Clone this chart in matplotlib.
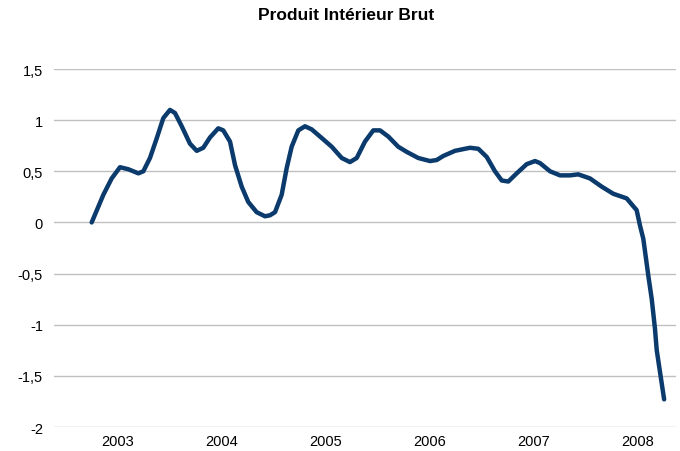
import matplotlib
matplotlib.use("Agg")
import matplotlib.pyplot as plt

plt.rcParams['font.family'] = ['Liberation Sans', 'DejaVu Sans']

title = "Produit Intérieur Brut"

dates = [2002.754, 2002.866, 2002.946, 2003.026, 2003.106, 2003.202, 2003.250, 2003.314,
         2003.378, 2003.442, 2003.506, 2003.554, 2003.619, 2003.698, 2003.763, 2003.826,
         2003.890, 2003.970, 2004.018, 2004.083, 2004.131, 2004.195, 2004.258, 2004.339,
         2004.419, 2004.467, 2004.515, 2004.579, 2004.627, 2004.675, 2004.739, 2004.803,
         2004.867, 2004.947, 2005.060, 2005.156, 2005.235, 2005.300, 2005.379, 2005.459,
         2005.524, 2005.603, 2005.699, 2005.780, 2005.891, 2006.004, 2006.068, 2006.132,
         2006.244, 2006.388, 2006.468, 2006.549, 2006.628, 2006.693, 2006.756, 2006.837,
         2006.933, 2007.013, 2007.061, 2007.157, 2007.253, 2007.349, 2007.428, 2007.541,
         2007.653, 2007.765, 2007.893, 2007.989, 2008.021, 2008.053, 2008.101, 2008.134,
         2008.165, 2008.182, 2008.213, 2008.253]

pib = [0.00, 0.27, 0.43, 0.54, 0.52, 0.48, 0.50, 0.63,
       0.82, 1.02, 1.10, 1.07, 0.94, 0.77, 0.70, 0.73,
       0.83, 0.92, 0.90, 0.79, 0.56, 0.35, 0.20, 0.10,
       0.06, 0.07, 0.10, 0.27, 0.53, 0.74, 0.90, 0.94,
       0.91, 0.84, 0.74, 0.63, 0.59, 0.63, 0.79, 0.90,
       0.90, 0.84, 0.74, 0.69, 0.63, 0.60, 0.61, 0.65,
       0.70, 0.73, 0.72, 0.64, 0.50, 0.41, 0.40, 0.48,
       0.57, 0.60, 0.58, 0.50, 0.46, 0.46, 0.47, 0.43,
       0.35, 0.28, 0.235, 0.12, -0.03, -0.16, -0.52, -0.75,
       -1.04, -1.25, -1.46, -1.73]

year_ticks = [2003, 2004, 2005, 2006, 2007, 2008]
year_labels = ["2003", "2004", "2005", "2006", "2007", "2008"]
y_ticks = [1.5, 1, 0.5, 0, -0.5, -1, -1.5, -2]
y_labels = ["1,5", "1", "0,5", "0", "-0,5", "-1", "-1,5", "-2"]

fig = plt.figure(figsize=(6.8, 4.52), dpi=100)
ax = fig.add_axes([54/680, 1-428/452, (676-54)/680, (428-70)/452])

ax.plot(dates, pib, color='#0b3a6c', lw=3.2, solid_capstyle='round', solid_joinstyle='round', zorder=3)

ax.set_xlim(2002.392, 2008.367)
ax.set_ylim(-2, 1.5)
ax.set_yticks(y_ticks)
ax.set_yticklabels(y_labels)
ax.set_xticks(year_ticks)
ax.set_xticklabels(year_labels)
ax.tick_params(axis='both', length=0, labelsize=10.5, colors='#000000')
ax.tick_params(axis='y', pad=8)
ax.tick_params(axis='x', pad=5)
ax.grid(axis='y', color='#c0c0c0', lw=1.0)
ax.grid(axis='x', visible=False)
for s in ax.spines.values():
    s.set_visible(False)

fig.text(346/680, 1-16/452, title, ha='center', va='center', fontsize=12.5, fontweight='bold')

fig.savefig("out.png", dpi=100)
